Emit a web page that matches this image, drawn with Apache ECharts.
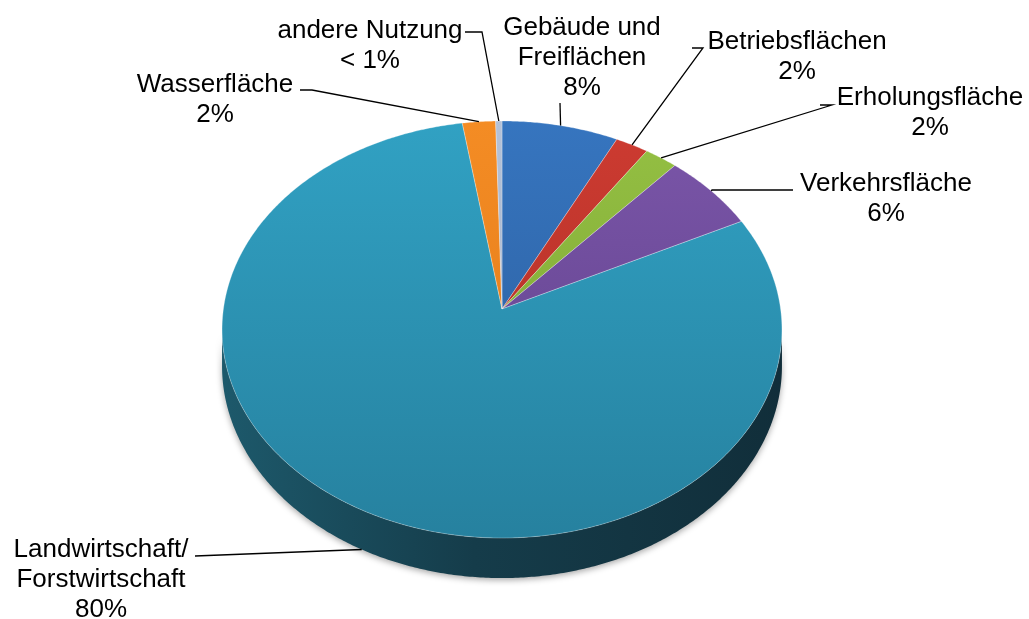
<!DOCTYPE html>
<html>
<head>
<meta charset="utf-8">
<script src="https://cdn.jsdelivr.net/npm/echarts@6/dist/echarts.min.js"></script>
<style>
  html, body { margin: 0; padding: 0; background: #fff; }
  #main { width: 1029px; height: 619px; }
</style>
</head>
<body>
<div id="main"></div>
<script>
var categories = ['Gebäude und\nFreiflächen', 'Betriebsflächen', 'Erholungsfläche', 'Verkehrsfläche',
                  'Landwirtschaft/\nForstwirtschaft', 'Wasserfläche', 'andere Nutzung'];
var shares = [7.4, 2.1, 2.1, 6.1, 79.8, 2.1, 0.4];
var shareLabels = ['8%', '2%', '2%', '6%', '80%', '2%', '< 1%'];

// colours: [top light, top dark]
var sliceColors = [
  ['#3675bf', '#2a5a98'],
  ['#cd3b31', '#a82d25'],
  ['#95c043', '#76a031'],
  ['#7b56a9', '#5c3e87'],
  ['#31a1c3', '#26819f'],
  ['#f48c24', '#df7818'],
  ['#b4c2d8', '#98a8c2']
];

// layout of the tilted pie
var CX = 502, CY = 309, RX = 278.6, RY = 206.5, PERSP = 0.0983, DEPTH = 36.1;
var FRONT_A = Math.acos(-PERSP) * 180 / Math.PI;   // ~95.6
var FRONT_B = 360 - FRONT_A;

// label block centres and leader elbows
var labelPos = [[582, 58], [797, 57], [930, 113], [886, 199], [101, 580], [215, 100], [370, 46]];
var leaderPts = [
  [[560, 103]],
  [[692, 48], [703, 48]],
  [[820, 105], [832, 105]],
  [[793, 190], [712, 190]],
  [[195, 556]],
  [[300, 90], [312, 90]],
  [[465, 32], [482, 32]]
];

var total = 0;
for (var i = 0; i < shares.length; i++) total += shares[i];

function proj(deg, down) {
  var t = deg * Math.PI / 180;
  var u = Math.sin(t), v = Math.cos(t);
  var s = 1 + PERSP * v;
  return [CX + RX * u / s, CY - RY * v / s + (down ? DEPTH / s : 0)];
}

function arc(a, b, down) {
  var pts = [];
  var n = Math.max(2, Math.ceil((b - a) / 0.5));
  for (var k = 0; k <= n; k++) pts.push(proj(a + (b - a) * k / n, down));
  return pts;
}

var renderSlice = function(params, api) {
  var idx = params.dataIndex;
  var before = 0;
  for (var j = 0; j < idx; j++) before += shares[j];
  var start = before / total * 360;
  var end = (before + api.value(0)) / total * 360;
  var col = sliceColors[idx];
  var children = [];

  // outer wall on the front half
  var a = Math.max(start, FRONT_A), b = Math.min(end, FRONT_B);
  if (a < b) {
    var wall = arc(a, b, false).concat(arc(a, b, true).reverse());
    children.push({
      type: 'polygon',
      z2: 1,
      shape: { points: wall },
      style: {
        fill: new echarts.graphic.LinearGradient(0, 0, 1, 0, [
          { offset: 0, color: '#1d596b' },
          { offset: 0.45, color: '#153c4a' },
          { offset: 1, color: '#112e3a' }
        ]),
        shadowBlur: 6,
        shadowColor: 'rgba(0,0,0,0.35)',
        shadowOffsetY: 2
      }
    });
  }

  // top face
  var top = [[CX, CY]].concat(arc(start, end, false));
  children.push({
    type: 'polygon',
    z2: 5,
    shape: { points: top },
    style: {
      fill: new echarts.graphic.LinearGradient(0, 121, 0, 538, [
        { offset: 0, color: col[0] },
        { offset: 1, color: col[1] }
      ], true),
      stroke: 'rgba(255,255,255,0.28)',
      lineWidth: 1
    }
  });

  // leader line
  var mid = (start + end) / 2;
  var c = Math.cos(mid * Math.PI / 180);
  var tip = proj(mid, c < -PERSP);
  children.push({
    type: 'polyline',
    z2: 8,
    shape: { points: leaderPts[idx].concat([tip]) },
    style: { stroke: '#000', lineWidth: 1.3, fill: null }
  });

  // label
  children.push({
    type: 'text',
    z2: 10,
    x: labelPos[idx][0],
    y: labelPos[idx][1],
    style: {
      text: categories[idx] + '\n' + shareLabels[idx],
      fill: '#000',
      fontSize: 26,
      fontFamily: 'Liberation Sans, Arial, sans-serif',
      lineHeight: 30,
      align: 'center',
      verticalAlign: 'middle'
    }
  });

  return { type: 'group', children: children };
};

var option = {
  backgroundColor: '#fff',
  animation: false,
  series: [
    {
      type: 'custom',
      coordinateSystem: 'none',
      renderItem: renderSlice,
      data: shares
    }
  ]
};

var myChart = echarts.init(document.getElementById('main'));
myChart.setOption(option);
</script>
</body>
</html>
